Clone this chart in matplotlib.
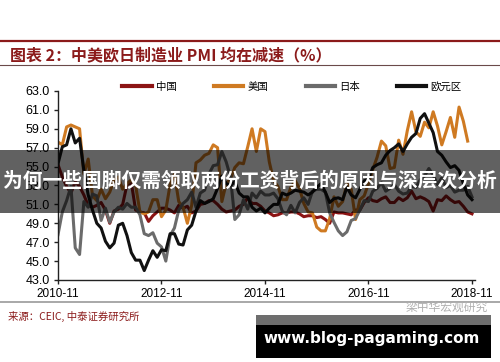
import numpy as np
import matplotlib
matplotlib.use("Agg")
from matplotlib import pyplot as plt
from matplotlib.patches import Rectangle
from matplotlib.lines import Line2D

plt.rcParams['font.family'] = ['Liberation Sans', 'Noto Sans CJK SC', 'DejaVu Sans']

# 月度数据 2010-11 起
china = [55.2, 53.9,
         52.9, 52.2, 53.4, 52.9, 52.0, 50.9, 50.7, 50.9, 51.2, 50.4, 49.0, 50.3,
         50.5, 51.0, 53.1, 53.3, 50.4, 50.2, 50.1, 49.2, 49.8, 50.2, 50.6, 50.6,
         50.4, 50.1, 50.9, 50.6, 50.8, 50.1, 50.3, 51.0, 51.1, 51.4, 51.4, 51.0,
         50.5, 50.2, 50.3, 50.4, 50.8, 51.0, 51.7, 51.1, 51.1, 50.8, 50.3, 50.1,
         49.8, 49.9, 50.1, 50.1, 50.2, 50.2, 50.0, 49.7, 49.8, 49.8, 49.6, 49.7,
         49.4, 49.0, 50.2, 50.1, 50.1, 50.0, 49.9, 50.4, 50.4, 51.2, 51.7, 51.4,
         51.3, 51.6, 51.8, 51.2, 51.2, 51.7, 51.4, 51.7, 52.4, 51.6, 51.8, 51.6,
         51.3, 50.3, 51.5, 51.4, 51.9, 51.5, 51.2, 51.3, 50.8, 50.2, 50.0]
usa = [57.6, 57.3,
       59.2, 59.4, 59.2, 59.0, 54.2, 55.8, 51.9, 51.4, 52.6, 51.6, 52.3, 53.6,
       53.9, 52.6, 53.2, 53.6, 53.0, 50.2, 50.0, 50.2, 51.5, 51.5, 49.7, 50.4,
       53.1, 54.2, 51.3, 50.7, 49.0, 50.9, 55.4, 55.7, 56.2, 56.4, 57.3, 57.0,
       51.3, 53.2, 53.7, 54.9, 55.4, 55.3, 57.1, 59.0, 56.6, 59.0, 58.7, 55.5,
       53.5, 52.9, 51.5, 51.5, 52.8, 53.5, 52.7, 51.1, 50.2, 50.1, 48.6, 48.2,
       48.2, 49.5, 51.8, 50.8, 51.3, 53.2, 52.6, 49.4, 51.5, 51.9, 53.2, 54.7,
       56.0, 57.7, 57.2, 54.8, 54.9, 57.8, 56.3, 58.8, 60.8, 58.7, 58.2, 59.7,
       59.1, 60.8, 59.3, 57.3, 58.7, 60.2, 58.1, 61.3, 59.8, 57.7]
japan = [47.8, 50.2,
         51.4, 52.9, 46.4, 45.7, 51.3, 50.7, 52.1, 51.9, 49.3, 50.6, 49.1, 50.2,
         50.7, 50.5, 51.1, 50.7, 50.7, 49.9, 47.9, 47.7, 48.0, 46.9, 46.5, 45.0,
         47.7, 48.5, 50.4, 51.1, 51.5, 52.3, 50.7, 52.2, 52.5, 54.2, 55.1, 55.2,
         56.6, 55.5, 53.9, 49.4, 49.9, 51.5, 50.5, 52.2, 51.7, 52.4, 52.0, 52.0,
         52.2, 51.6, 50.3, 49.9, 50.9, 50.1, 51.2, 51.7, 51.0, 52.4, 52.6, 52.6,
         52.3, 50.1, 49.1, 48.2, 47.7, 48.1, 49.3, 49.5, 50.4, 51.4, 51.3, 52.4,
         52.7, 53.3, 52.4, 52.7, 53.1, 52.4, 52.1, 52.2, 52.9, 52.8, 53.6, 54.0,
         54.8, 54.1, 53.1, 53.8, 52.8, 53.0, 52.3, 52.5, 52.5, 52.9, 51.8]
euro = [55.3, 57.1,
        57.3, 59.0, 57.5, 58.0, 54.6, 52.0, 50.4, 49.0, 48.5, 47.1, 46.4, 46.9,
        48.8, 49.0, 47.7, 45.9, 45.1, 45.1, 44.0, 45.1, 46.1, 45.4, 46.2, 46.1,
        47.9, 47.9, 46.8, 46.7, 48.3, 48.8, 50.3, 51.4, 51.1, 51.3, 51.6, 52.7,
        54.0, 53.2, 53.0, 53.4, 52.2, 51.8, 51.8, 50.7, 50.3, 50.6, 50.1, 50.6,
        51.0, 51.0, 52.2, 52.0, 52.2, 52.5, 52.4, 52.3, 52.0, 52.3, 52.8, 53.2,
        52.3, 51.2, 51.6, 51.7, 51.5, 52.8, 52.0, 51.7, 52.6, 53.5, 53.7, 54.9,
        55.2, 55.4, 56.2, 56.7, 57.0, 57.4, 56.6, 57.4, 58.1, 58.5, 60.1, 60.6,
        59.6, 58.6, 56.6, 56.2, 55.5, 54.9, 55.1, 54.6, 53.2, 52.0, 51.5]

tick_labels = ['2010-11', '2012-11', '2014-11', '2016-11', '2018-11']
yticks = np.arange(43.0, 63.1, 2.0)

W, H = 500, 362
fig = plt.figure(figsize=(W / 100, H / 100), dpi=100)
fig.patch.set_facecolor('white')

ax = fig.add_axes([58 / W, 1 - 280 / H, (475 - 58) / W, (280 - 91) / H])
ax.plot(np.arange(len(china)), china, color='#8c1414', lw=2.2, label='中国')
ax.plot(np.arange(len(usa)), usa, color='#cf7a22', lw=2.2, label='美国')
ax.plot(np.arange(len(japan)), japan, color='#6b6b6b', lw=2.2, label='日本')
ax.plot(np.arange(len(euro)), euro, color='#111111', lw=2.2, label='欧元区')

ax.set_xlim(0, 96.7)
ax.set_ylim(43, 63)
ax.set_yticks(yticks)
ax.set_yticklabels([f'{v:.1f}' for v in yticks], fontsize=9)
ax.set_xticks(np.arange(0, 97, 24))
ax.set_xticklabels(tick_labels, fontsize=8.5)
for s in ['top', 'right']:
    ax.spines[s].set_visible(False)
for s in ['left', 'bottom']:
    ax.spines[s].set_color('#222222')
    ax.spines[s].set_linewidth(1.0)
ax.tick_params(axis='both', length=3, width=1, color='#222222', pad=3)

leg = ax.legend(ncol=4, frameon=False, loc='center',
                bbox_to_anchor=(292 / W, 1 - 87 / H), bbox_transform=fig.transFigure,
                handlelength=2.8, columnspacing=3.6, handletextpad=0.4, fontsize=7.5)
for line in leg.get_lines():
    line.set_linewidth(3)

# 标题与分隔线
fig.add_artist(Line2D([0, 1], [1 - 41 / H] * 2, color='#8b1a1a', lw=1.6))
fig.text(10 / W, 1 - 55 / H, '图表 2：中美欧日制造业 PMI 均在减速（%）',
         color='#8b1a1a', fontsize=11.5, fontweight='bold', va='center',
         family=['Noto Sans CJK SC', 'DejaVu Sans'])
fig.add_artist(Line2D([0, 1], [1 - 64.5 / H] * 2, color='#6b4a4a', lw=0.8))
fig.add_artist(Line2D([0, 1], [1 - 302 / H] * 2, color='#999999', lw=1.2))
fig.text(8 / W, 1 - 316 / H, '来源：CEIC, 中泰证券研究所', color='#8b1a1a',
         fontsize=7.5, va='center', family=['Noto Sans CJK SC', 'DejaVu Sans'])
fig.text(488 / W, 1 - 307 / H, '梁中华宏观研究', color='#b0b0b0', fontsize=8.5,
         ha='right', va='center', family=['Noto Sans CJK SC', 'DejaVu Sans'])

# 横幅覆盖
fig.add_artist(Rectangle((0, 1 - 213 / H), 1, 63 / H, transform=fig.transFigure,
                         facecolor='black', alpha=0.62, lw=0))
fig.text(0.5, 1 - 181 / H, '为何一些国脚仅需领取两份工资背后的原因与深层次分析',
         color='white', fontsize=14.2, fontweight='bold', ha='center', va='center',
         family=['Noto Sans CJK SC', 'DejaVu Sans'])

fig.add_artist(Rectangle((256 / W, 1 - 325 / H), 235 / W, 10 / H, transform=fig.transFigure,
                         facecolor='#6e6e6e', lw=0))
fig.add_artist(Rectangle((256 / W, 1 - 358 / H), 235 / W, 33 / H, transform=fig.transFigure,
                         facecolor='black', lw=0))
fig.text(372 / W, 1 - 338 / H, 'www.blog-pagaming.com', color='white', fontsize=11,
         fontweight='bold', ha='center', va='center', family='DejaVu Sans')

plt.savefig('out.png', dpi=100)
